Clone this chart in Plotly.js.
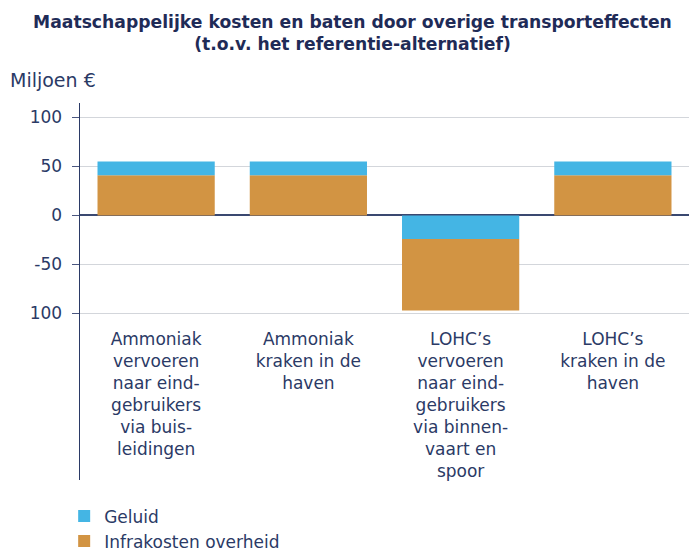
<!DOCTYPE html>
<html>
<head>
<meta charset="utf-8">
<script src="https://cdn.plot.ly/plotly-3.0.1.min.js"></script>
<style>html,body{margin:0;padding:0;background:#fff;}#chart{width:689px;height:552px;}</style>
</head>
<body>
<div id="chart"></div>
<script>
const categories = [
  "Ammoniak<br>vervoeren<br>naar eind-<br>gebruikers<br>via buis-<br>leidingen",
  "Ammoniak<br>kraken in de<br>haven",
  "LOHC’s<br>vervoeren<br>naar eind-<br>gebruikers<br>via binnen-<br>vaart en<br>spoor",
  "LOHC’s<br>kraken in de<br>haven"
];
const infrakosten = [41, 41, -73, 41];
const geluid = [14, 14, -24, 14];
const tickVals = [-100, -50, 0, 50, 100];
const tickText = ["100", "-50", "0", "50", "100"];

const navy = "#2b3a66";
const font = "DejaVu Sans";
const orange = "#d29443";
const blue = "#44b5e4";

// Positive costs stack below Geluid, negative costs stack beyond Geluid (as in the reference)
const infraPos = infrakosten.map(v => v >= 0 ? v : null);
const infraNeg = infrakosten.map(v => v < 0 ? v : null);

const traces = [
  {type: "bar", name: "Infrakosten overheid", x: categories, y: infraPos,
   marker: {color: orange, line: {width: 0}}, legendgroup: "infra", legendrank: 2},
  {type: "bar", name: "Geluid", x: categories, y: geluid,
   marker: {color: blue, line: {width: 0}}, legendgroup: "geluid", legendrank: 1},
  {type: "bar", name: "Infrakosten overheid", x: categories, y: infraNeg,
   marker: {color: orange, line: {width: 0}}, legendgroup: "infra", showlegend: false}
];

const layout = {
  width: 689, height: 552,
  margin: {l: 80, r: 0, t: 103, b: 72, autoexpand: false},
  paper_bgcolor: "#fff", plot_bgcolor: "#fff",
  barmode: "relative",
  bargap: 0.23,
  hovermode: false,
  font: {family: font, color: navy, size: 17},
  title: {
    text: "<b>Maatschappelijke kosten en baten door overige transporteffecten<br>(t.o.v. het referentie-alternatief)</b>",
    font: {family: font, size: 17.2, color: "#1f2b57"},
    x: 0.5116, xref: "container", xanchor: "center",
    y: 1 - 28 / 552, yref: "container", yanchor: "top"
  },
  xaxis: {
    type: "category",
    anchor: "free", position: 0.4416,
    showline: false, showgrid: false, zeroline: false,
    ticks: "", ticklabelstandoff: 13,
    tickfont: {family: font, size: 17, color: navy},
    automargin: false, fixedrange: true
  },
  yaxis: {
    range: [-270, 114.8],
    tickvals: tickVals, ticktext: tickText,
    showline: true, linecolor: navy, linewidth: 1.5,
    ticks: "outside", ticklen: 7, tickcolor: "#4a5680", tickwidth: 1.5,
    ticklabelstandoff: 6,
    showgrid: true, gridcolor: "#d3d6db", gridwidth: 1.5,
    zeroline: true, zerolinecolor: "#3a4870", zerolinewidth: 2,
    tickfont: {family: font, size: 17, color: navy},
    automargin: false, fixedrange: true
  },
  showlegend: true,
  legend: {
    orientation: "v", traceorder: "normal",
    x: -0.026, xanchor: "left",
    y: -0.049, yanchor: "top",
    font: {family: font, size: 17, color: navy},
    bgcolor: "rgba(0,0,0,0)", borderwidth: 0
  },
  annotations: [{
    text: "Miljoen €", xref: "paper", yref: "paper",
    x: -0.1182, xanchor: "left", y: 1.0597, yanchor: "middle",
    showarrow: false, font: {family: font, size: 19, color: navy}
  }]
};

Plotly.newPlot("chart", traces, layout, {displayModeBar: false, staticPlot: true});
</script>
</body>
</html>
